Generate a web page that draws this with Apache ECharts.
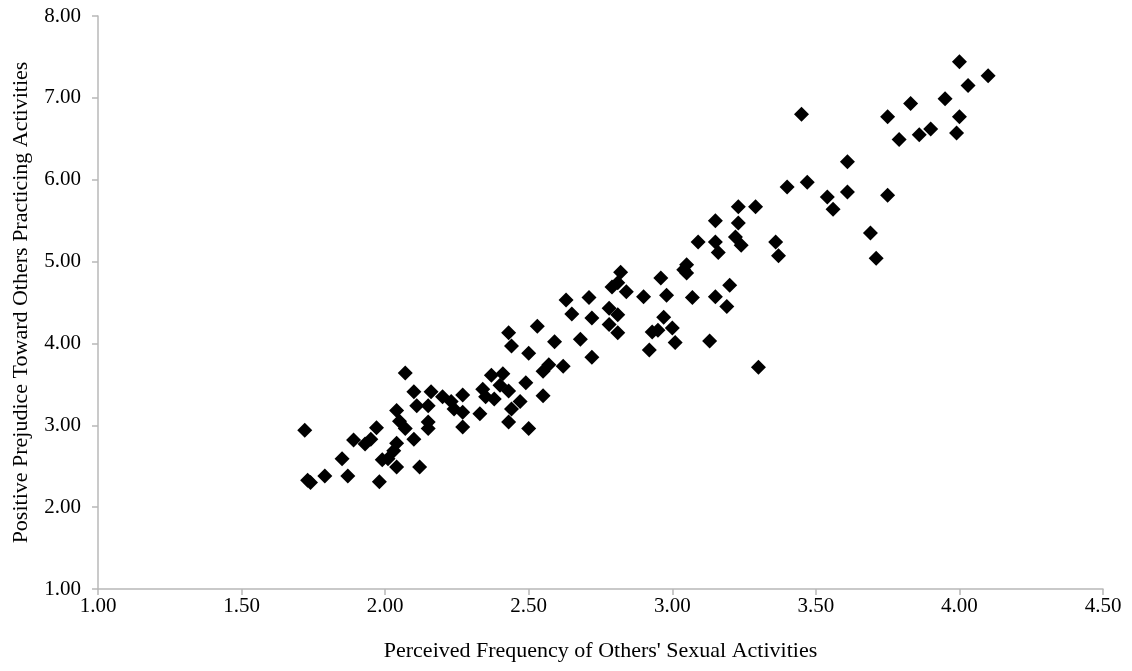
<!DOCTYPE html>
<html lang="en">

<head>
    <meta charset="UTF-8">
    <title>Prejudice scatter</title>
    <style>
        html, body { margin: 0; padding: 0; background: #fff; }
    </style>
</head>

<body>
    <div id="main" style="width: 1132px;height: 671px;"></div>
    <script src="https://cdn.jsdelivr.net/npm/echarts@6/dist/echarts.min.js"></script>
    <script>
        // perceived frequency (x) and positive prejudice (y)
        var freq = [1.72, 1.73, 1.74, 1.79, 1.85, 1.87, 1.89, 1.93, 1.95, 1.97, 1.98, 1.99, 2.04, 2.03, 2.01, 2.04, 2.12, 2.10, 2.04, 2.05, 2.07, 2.07, 2.10, 2.11,
            2.16, 2.15, 2.15, 2.15, 2.20, 2.23, 2.24, 2.27, 2.27, 2.27, 2.34, 2.35, 2.38, 2.33, 2.37, 2.41, 2.40, 2.43, 2.49, 2.43, 2.44, 2.47, 2.50, 2.55, 2.55, 2.57, 2.62,
            2.43, 2.44, 2.53, 2.59, 2.68, 2.50, 2.72, 2.63, 2.71, 2.65, 2.72, 2.78, 2.81, 2.78, 2.81, 2.82, 2.81, 2.79, 2.84, 2.90, 2.96, 2.98, 3.05, 3.04, 3.07, 3.15, 3.20, 3.19, 2.97, 2.93, 2.95, 3.00, 3.01, 2.92, 3.13, 3.16,
            3.40, 3.47, 3.54, 3.56, 3.61, 3.75, 3.69, 3.71, 3.23, 3.29, 3.15, 3.23, 3.09, 3.15, 3.22, 3.24, 3.36, 3.37, 3.05, 3.30, 3.61,
            4.00, 4.10, 4.03, 3.95, 3.83, 3.75, 3.45, 4.00, 3.99, 3.90, 3.86, 3.79];
        var prejudice = [2.94, 2.33, 2.30, 2.38, 2.59, 2.38, 2.82, 2.77, 2.83, 2.97, 2.31, 2.58, 2.78, 2.69, 2.59, 2.49, 2.49, 2.83, 3.18, 3.05, 2.96, 3.64, 3.41, 3.24,
            3.41, 3.24, 3.04, 2.96, 3.35, 3.29, 3.20, 3.37, 3.16, 2.98, 3.44, 3.35, 3.32, 3.14, 3.61, 3.63, 3.49, 3.42, 3.52, 3.04, 3.20, 3.29, 2.96, 3.36, 3.66, 3.74, 3.72,
            4.13, 3.97, 4.21, 4.02, 4.05, 3.88, 3.83, 4.53, 4.56, 4.36, 4.31, 4.43, 4.35, 4.23, 4.13, 4.87, 4.74, 4.69, 4.63, 4.57, 4.80, 4.59, 4.96, 4.90, 4.56, 4.57, 4.71, 4.45, 4.32, 4.14, 4.16, 4.19, 4.01, 3.92, 4.03, 5.11,
            5.91, 5.97, 5.79, 5.64, 5.85, 5.81, 5.35, 5.04, 5.67, 5.67, 5.50, 5.47, 5.24, 5.24, 5.30, 5.20, 5.24, 5.07, 4.86, 3.71, 6.22,
            7.44, 7.27, 7.15, 6.99, 6.93, 6.77, 6.80, 6.77, 6.57, 6.62, 6.55, 6.49];

        var xTitle = "Perceived Frequency of Others' Sexual Activities";
        var yTitle = 'Positive Prejudice Toward Others Practicing Activities';

        var points = freq.map(function (f, i) { return [f, prejudice[i]]; });

        var chart = echarts.init(document.getElementById('main'));
        var font = '"Liberation Serif", "Times New Roman", serif';
        var grey = { color: '#b8b8b8', width: 1.5 };

        chart.setOption({
            animation: false,
            grid: { left: 98, right: 29, top: 16, bottom: 82, outerBoundsMode: 'none' },
            xAxis: {
                type: 'value',
                min: 1, max: 4.5, interval: 0.5,
                name: xTitle,
                nameLocation: 'middle',
                nameGap: 51,
                nameTextStyle: { fontFamily: font, fontSize: 22, color: '#000' },
                axisLine: { lineStyle: grey },
                axisTick: { show: true, length: 6, lineStyle: grey },
                splitLine: { show: false },
                axisLabel: {
                    fontFamily: font, fontSize: 21, color: '#000', margin: 7,
                    formatter: function (v) { return v.toFixed(2); }
                }
            },
            yAxis: {
                type: 'value',
                min: 1, max: 8, interval: 1,
                name: yTitle,
                nameLocation: 'middle',
                nameGap: 66,
                nameRotate: 90,
                nameTextStyle: { fontFamily: font, fontSize: 22, color: '#000' },
                axisLine: { show: true, lineStyle: grey },
                axisTick: { show: true, length: 6, lineStyle: grey },
                splitLine: { show: false },
                axisLabel: {
                    fontFamily: font, fontSize: 21, color: '#000', margin: 17,
                    formatter: function (v) { return v.toFixed(2); }
                }
            },
            series: [{
                type: 'scatter',
                symbol: 'diamond',
                symbolSize: 15,
                itemStyle: { color: '#000', opacity: 1 },
                data: points
            }]
        });
    </script>
</body>

</html>
